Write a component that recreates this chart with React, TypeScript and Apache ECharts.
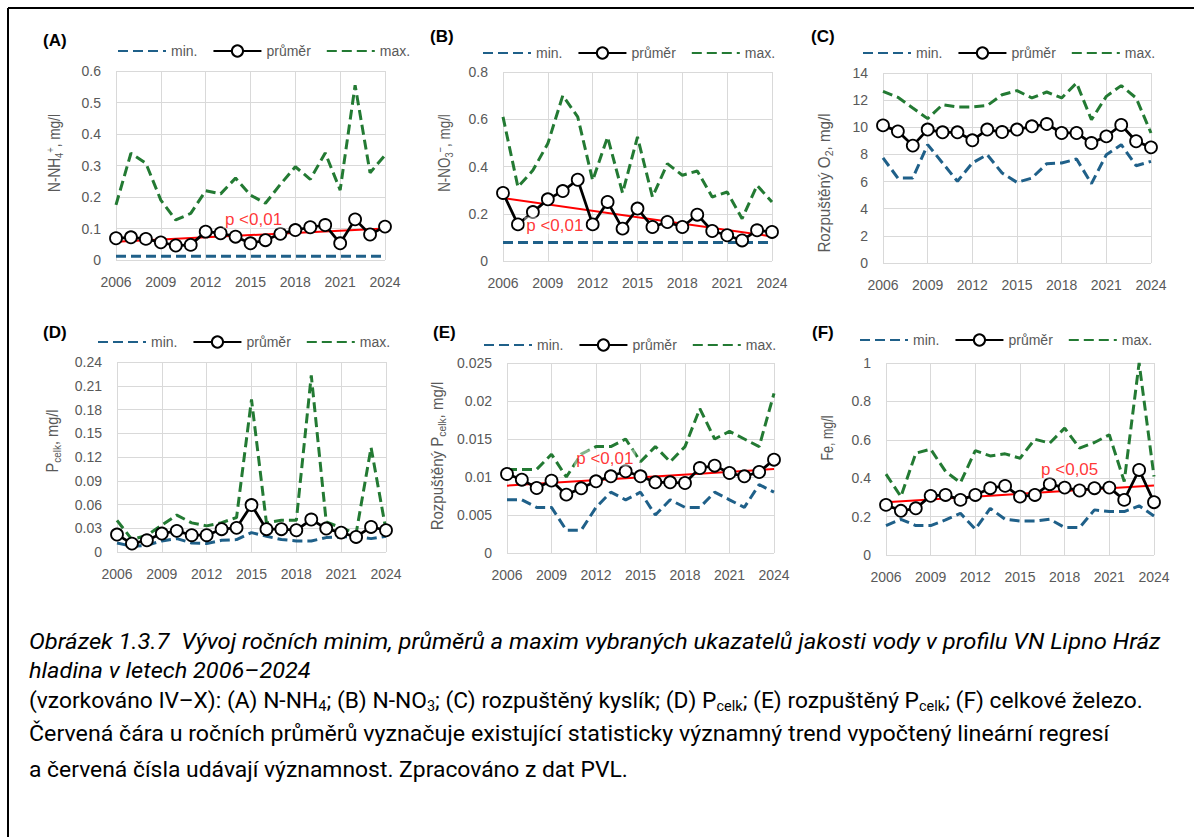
import React, { useEffect, useRef } from "react";
import * as echarts from "echarts";

// ---------- DATA ----------
const years = [
  "2006", "2007", "2008", "2009", "2010", "2011", "2012", "2013", "2014", "2015",
  "2016", "2017", "2018", "2019", "2020", "2021", "2022", "2023", "2024",
];
const legendNames = ["min.", "průměr", "max."];

// (A) N-NH4+
const nh4Min = [0.012, 0.012, 0.012, 0.012, 0.012, 0.012, 0.012, 0.012, 0.012, 0.012, 0.012, 0.012, 0.012, 0.012, 0.012, 0.012, 0.012, 0.012, 0.012];
const nh4Mean = [0.069, 0.072, 0.067, 0.056, 0.046, 0.048, 0.09, 0.085, 0.074, 0.053, 0.063, 0.083, 0.095, 0.104, 0.111, 0.053, 0.129, 0.081, 0.106];
const nh4Max = [0.175, 0.339, 0.307, 0.19, 0.127, 0.148, 0.22, 0.21, 0.26, 0.206, 0.18, 0.24, 0.296, 0.256, 0.34, 0.222, 0.555, 0.277, 0.333];
const nh4Trend = [0.058, 0.1];
const nh4PLabel = ["2015", 0.127];

// (B) N-NO3-
const no3Min = [0.078, 0.078, 0.078, 0.078, 0.078, 0.078, 0.078, 0.078, 0.078, 0.078, 0.078, 0.078, 0.078, 0.078, 0.078, 0.078, 0.078, 0.078, 0.078];
const no3Mean = [0.288, 0.155, 0.207, 0.261, 0.296, 0.344, 0.155, 0.25, 0.137, 0.222, 0.144, 0.165, 0.144, 0.196, 0.127, 0.109, 0.087, 0.13, 0.123];
const no3Max = [0.61, 0.313, 0.384, 0.497, 0.7, 0.61, 0.341, 0.525, 0.288, 0.525, 0.271, 0.412, 0.363, 0.381, 0.271, 0.292, 0.179, 0.32, 0.25];
const no3Trend = [0.267, 0.104];
const no3PLabel = ["2009", 0.151];

// (C) Rozpuštěný O2
const o2Min = [7.74, 6.26, 6.26, 8.72, 7.37, 6.02, 7.37, 7.98, 6.63, 5.94, 6.26, 7.32, 7.37, 7.66, 5.85, 7.98, 8.72, 7.17, 7.49];
const o2Mean = [10.14, 9.7, 8.65, 9.83, 9.63, 9.63, 9.04, 9.83, 9.65, 9.83, 10.07, 10.24, 9.58, 9.58, 8.84, 9.33, 10.17, 8.97, 8.52];
const o2Max = [12.65, 12.21, 11.42, 10.64, 11.67, 11.5, 11.5, 11.6, 12.4, 12.7, 12.16, 12.6, 12.16, 13.26, 10.56, 12.28, 13.07, 12.16, 9.58];

// (D) P celk
const pMin = [0.0114, 0.0072, 0.0085, 0.014, 0.0169, 0.0114, 0.0106, 0.0148, 0.0157, 0.0245, 0.0199, 0.0157, 0.014, 0.014, 0.0182, 0.019, 0.0199, 0.0169, 0.0199];
const pMean = [0.022, 0.0106, 0.0148, 0.0233, 0.0267, 0.0212, 0.0212, 0.0288, 0.0305, 0.0593, 0.0288, 0.0288, 0.0275, 0.041, 0.0296, 0.0245, 0.019, 0.0317, 0.0275];
const pMax = [0.04, 0.0157, 0.021, 0.034, 0.0466, 0.0368, 0.033, 0.037, 0.0436, 0.1926, 0.0368, 0.04, 0.04, 0.223, 0.038, 0.0305, 0.0233, 0.132, 0.0275];

// (E) Rozpuštěný P celk
const dpMin = [0.007, 0.007, 0.006, 0.006, 0.003, 0.003, 0.006, 0.008, 0.007, 0.008, 0.005, 0.007, 0.006, 0.006, 0.008, 0.007, 0.006, 0.009, 0.008];
const dpMean = [0.0104, 0.00965, 0.00855, 0.00952, 0.00768, 0.00851, 0.00943, 0.01009, 0.01075, 0.01009, 0.0093, 0.0093, 0.00921, 0.01118, 0.01149, 0.01053, 0.01009, 0.01066, 0.01228];
const dpMax = [0.011, 0.011, 0.011, 0.013, 0.01, 0.013, 0.014, 0.014, 0.015, 0.012, 0.014, 0.012, 0.014, 0.019, 0.015, 0.016, 0.015, 0.014, 0.021];
const dpTrend = [0.00886, 0.01105];
const dpPLabel = ["2013", 0.0125];

// (F) Fe
const feMin = [0.153, 0.186, 0.153, 0.153, 0.183, 0.217, 0.134, 0.243, 0.186, 0.177, 0.177, 0.186, 0.143, 0.143, 0.235, 0.226, 0.226, 0.256, 0.203];
const feMean = [0.261, 0.23, 0.243, 0.308, 0.313, 0.287, 0.313, 0.348, 0.36, 0.304, 0.313, 0.369, 0.351, 0.336, 0.348, 0.351, 0.287, 0.443, 0.275];
const feMax = [0.421, 0.304, 0.53, 0.551, 0.435, 0.377, 0.544, 0.516, 0.527, 0.504, 0.603, 0.583, 0.661, 0.557, 0.586, 0.626, 0.383, 1.0, 0.409];
const feTrend = [0.275, 0.362];
const fePLabel = ["2018", 0.443];

// Captions
const captionTitle1 = "Obrázek 1.3.7  Vývoj ročních minim, průměrů a maxim vybraných ukazatelů jakosti vody v profilu VN Lipno Hráz";
const captionTitle2 = "hladina v letech 2006–2024";
const captionLine3 = "(vzorkováno IV–X): (A) N-NH{s|4}; (B) N-NO{s|3}; (C) rozpuštěný kyslík; (D) P{s|celk}; (E) rozpuštěný P{s|celk}; (F) celkové železo.";
const captionLine4 = "Červená čára u ročních průměrů vyznačuje existující statisticky významný trend vypočtený lineární regresí";
const captionLine5 = "a červená čísla udávají významnost. Zpracováno z dat PVL.";

// ---------- STYLE / LAYOUT ----------
const FONT = "'Liberation Sans Narrow', 'Liberation Sans', Arial, sans-serif";
const CAP_FONT = "Roboto, 'Noto Sans', sans-serif";
const MIN_C = "#1F6089";
const MAX_C = "#237A33";
const GRID_C = "#D9D9D9";
const LABEL_C = "#595959";

const panels = [
  { tag: "(A)", min: nh4Min, mean: nh4Mean, max: nh4Max, trend: nh4Trend, p: nh4PLabel, pText: "p <0,01", pOffset: [3, 0],
    yMax: 0.6, yInt: 0.1, grid: [116, 71, 269, 189], legend: [117, 44], tagPos: [43, 40],
    title: "N-NH{sub|4}{sup|+}, mg/l", titlePos: [55, 153], titleScale: 0.85 },
  { tag: "(B)", min: no3Min, mean: no3Mean, max: no3Max, trend: no3Trend, p: no3PLabel, pText: "p <0,01", pOffset: [7, 0],
    yMax: 0.8, yInt: 0.2, grid: [503, 72, 269, 189], legend: [482, 46], tagPos: [430, 36],
    title: "N-NO{sub|3}{sup|−}, mg/l", titlePos: [445, 153], titleScale: 0.84 },
  { tag: "(C)", min: o2Min, mean: o2Mean, max: o2Max, trend: null, p: null, pText: "", pOffset: [0, 0],
    yMax: 14, yInt: 2, grid: [883, 73, 268, 190], legend: [862, 46], tagPos: [811, 36],
    title: "Rozpuštěný O{sub|2}, mg/l", titlePos: [824, 183], titleScale: 0.95 },
  { tag: "(D)", min: pMin, mean: pMean, max: pMax, trend: null, p: null, pText: "", pOffset: [0, 0],
    yMax: 0.24, yInt: 0.03, grid: [117, 362, 269, 190], legend: [97, 335], tagPos: [43, 332],
    title: "P{sub|celk}, mg/l", titlePos: [52, 441], titleScale: 0.91 },
  { tag: "(E)", min: dpMin, mean: dpMean, max: dpMax, trend: dpTrend, p: dpPLabel, pText: "p <0,01", pOffset: [-6, 0],
    yMax: 0.025, yInt: 0.005, grid: [507, 363, 267, 190], legend: [483, 338], tagPos: [433, 332],
    title: "Rozpuštěný P{sub|celk}, mg/l", titlePos: [437, 456], titleScale: 0.94 },
  { tag: "(F)", min: feMin, mean: feMean, max: feMax, trend: feTrend, p: fePLabel, pText: "p <0,05", pOffset: [5, 0],
    yMax: 1, yInt: 0.2, grid: [886, 363, 268, 192], legend: [859, 333], tagPos: [812, 332],
    title: "Fe, mg/l", titlePos: [827, 438], titleScale: 0.78 },
];

function buildOption() {
  const grid = panels.map((p) => ({
    left: p.grid[0], top: p.grid[1], width: p.grid[2], height: p.grid[3],
    containLabel: false, outerBoundsMode: "none",
  }));
  const xAxis = panels.map((p, i) => ({
    type: "category", gridIndex: i, data: years, boundaryGap: false,
    axisLine: { show: false }, axisTick: { show: false },
    axisLabel: { interval: 2, color: LABEL_C, fontSize: 14, margin: 15, fontFamily: FONT },
    splitLine: { show: true, interval: 2, lineStyle: { color: GRID_C, width: 1 } },
  }));
  const yAxis = panels.map((p, i) => ({
    type: "value", gridIndex: i, min: 0, max: p.yMax, interval: p.yInt,
    axisLine: { show: false }, axisTick: { show: false },
    axisLabel: { color: LABEL_C, fontSize: 14, margin: 15, fontFamily: FONT },
    splitLine: { show: true, lineStyle: { color: GRID_C, width: 1 } },
  }));
  const legend = panels.map((p) => ({
    left: p.legend[0], top: p.legend[1], orient: "horizontal", padding: 0,
    itemWidth: 48, itemHeight: 14, itemGap: 15, selectedMode: false,
    data: [
      { name: legendNames[0], itemStyle: { opacity: 0 } },
      { name: legendNames[1] },
      { name: legendNames[2], itemStyle: { opacity: 0 } },
    ],
    textStyle: { color: LABEL_C, fontSize: 14, fontFamily: FONT },
  }));
  const series: any[] = [];
  panels.forEach((p, i) => {
    series.push({
      type: "line", name: "min.", xAxisIndex: i, yAxisIndex: i, data: p.min,
      symbol: "none", z: 2, silent: true,
      lineStyle: { color: MIN_C, width: 3, type: [10, 5] }, itemStyle: { color: MIN_C },
    });
    series.push({
      type: "line", name: "průměr", xAxisIndex: i, yAxisIndex: i, data: p.mean,
      symbol: "circle", symbolSize: 12, showSymbol: true, showAllSymbol: true, z: 4, silent: true,
      lineStyle: { color: "#000000", width: 2.75 },
      itemStyle: { color: "#FFFFFF", borderColor: "#000000", borderWidth: 1.8 },
    });
    series.push({
      type: "line", name: "max.", xAxisIndex: i, yAxisIndex: i, data: p.max,
      symbol: "none", z: 2, silent: true,
      lineStyle: { color: MAX_C, width: 3, type: [10, 5] }, itemStyle: { color: MAX_C },
    });
    if (p.trend) {
      series.push({
        type: "line", name: "trend", xAxisIndex: i, yAxisIndex: i,
        data: [[years[0], p.trend[0]], [years[years.length - 1], p.trend[1]]],
        symbol: "none", z: 3, silent: true,
        lineStyle: { color: "#FF0000", width: 2 },
      });
    }
    if (p.p) {
      series.push({
        type: "scatter", name: "p", xAxisIndex: i, yAxisIndex: i,
        data: [p.p], symbolSize: 1, z: 6, silent: true,
        itemStyle: { color: "rgba(0,0,0,0)" },
        label: {
          show: true, position: "inside", formatter: p.pText, offset: p.pOffset,
          color: "#FF0000", fontSize: 17, fontFamily: FONT,
          backgroundColor: "rgba(255,255,255,0.55)", padding: [0, 2],
        },
      });
    }
  });

  const subRich = {
    sub: { fontSize: 11, fontFamily: FONT, fill: LABEL_C, verticalAlign: "bottom", lineHeight: 11 },
    sup: { fontSize: 11, fontFamily: FONT, fill: LABEL_C, verticalAlign: "top", lineHeight: 11 },
  };

  const graphic: any[] = [
    { type: "line", shape: { x1: 8, y1: 8, x2: 1194, y2: 8 }, style: { stroke: "#000", lineWidth: 2 }, silent: true },
    { type: "line", shape: { x1: 8, y1: 8, x2: 8, y2: 837 }, style: { stroke: "#000", lineWidth: 2 }, silent: true },
  ];
  panels.forEach((p) => {
    graphic.push({
      type: "text", x: p.tagPos[0], y: p.tagPos[1], silent: true,
      style: {
        text: p.tag, fill: "#000", fontSize: 17, fontWeight: "bold", fontFamily: "'Liberation Sans', Arial, sans-serif",
        align: "left", verticalAlign: "middle", textAlign: "left", textVerticalAlign: "middle",
      },
    });
    graphic.push({
      type: "text", x: p.titlePos[0], y: p.titlePos[1], rotation: Math.PI / 2, scaleX: p.titleScale, silent: true,
      style: {
        text: p.title, fill: LABEL_C, fontSize: 16, fontFamily: FONT, lineHeight: 20,
        align: "center", verticalAlign: "middle", textAlign: "center", textVerticalAlign: "middle",
        rich: subRich,
      },
    });
  });
  const capBase = { fill: "#000", fontSize: 22, fontFamily: CAP_FONT, align: "left", verticalAlign: "middle", textAlign: "left", textVerticalAlign: "middle" };
  graphic.push({ type: "text", x: 29, y: 642, scaleX: 1.08, silent: true, style: { ...capBase, text: captionTitle1, fontStyle: "italic" } });
  graphic.push({ type: "text", x: 29, y: 671, scaleX: 1.07, silent: true, style: { ...capBase, text: captionTitle2, fontStyle: "italic" } });
  graphic.push({
    type: "text", x: 29, y: 700, scaleX: 1.035, silent: true,
    style: {
      ...capBase, text: captionLine3, lineHeight: 26,
      rich: { s: { fontSize: 14, fontFamily: CAP_FONT, fill: "#000", verticalAlign: "bottom", lineHeight: 15 } },
    },
  });
  graphic.push({ type: "text", x: 29, y: 734, scaleX: 1.055, silent: true, style: { ...capBase, text: captionLine4 } });
  graphic.push({ type: "text", x: 29, y: 769, scaleX: 1.04, silent: true, style: { ...capBase, text: captionLine5 } });

  return {
    animation: false,
    backgroundColor: "#FFFFFF",
    textStyle: { fontFamily: FONT },
    grid, xAxis, yAxis, legend, series, graphic,
  };
}

export default function App() {
  const ref = useRef<HTMLDivElement>(null);
  useEffect(() => {
    if (!ref.current) return;
    const chart = echarts.init(ref.current, undefined, { renderer: "svg" });
    chart.setOption(buildOption() as any);
    return () => chart.dispose();
  }, []);
  return (
    <div
      ref={ref}
      style={{ position: "absolute", left: 0, top: 0, width: 1194, height: 837, background: "#fff" }}
    />
  );
}
